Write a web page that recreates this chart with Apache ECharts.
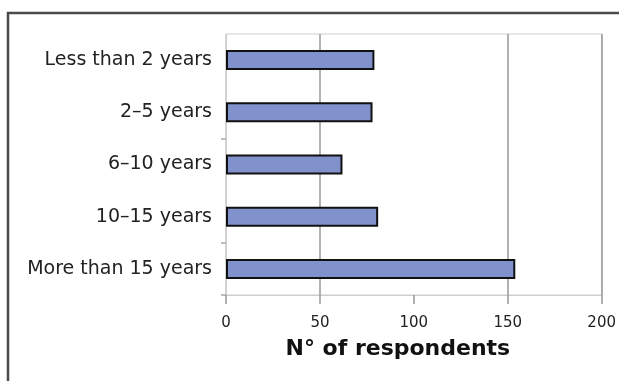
<!DOCTYPE html>
<html>
<head>
<meta charset="utf-8">
<script src="https://cdn.jsdelivr.net/npm/echarts@6/dist/echarts.min.js"></script>
<style>html,body{margin:0;padding:0;background:#fff;}#c{width:619px;height:381px;}</style>
</head>
<body>
<div id="c"></div>
<script>
const categories = ['Less than 2 years', '2–5 years', '6–10 years', '10–15 years', 'More than 15 years'];
const respondents = [79, 78, 62, 81, 154];
const xTicks = [0, 50, 100, 150, 200];

const chart = echarts.init(document.getElementById('c'), null, {renderer: 'canvas'});
chart.setOption({
  backgroundColor: '#fff',
  animation: false,
  graphic: [{
    type: 'rect', z: 100,
    shape: {x: 8, y: 13, width: 1200, height: 800},
    style: {fill: 'none', stroke: '#4a4a4a', lineWidth: 2.5}
  }],
  grid: {left: 226, top: 34, right: 15, bottom: 86, show: true, borderColor: '#cfcfcf', borderWidth: 1},
  xAxis: {
    type: 'value', min: xTicks[0], max: xTicks[xTicks.length - 1], interval: 50,
    name: 'N° of respondents', nameLocation: 'middle', nameGap: 43,
    nameTextStyle: {fontFamily: 'DejaVu Sans', fontWeight: 'bold', fontSize: 22, color: '#111', padding: [0, 32, 0, 0]},
    axisLine: {show: true, lineStyle: {color: '#cfcfcf', width: 1}},
    axisTick: {show: true, length: 9, lineStyle: {color: '#999', width: 1.5}},
    axisLabel: {fontFamily: 'DejaVu Sans', fontSize: 15, color: '#222', margin: 21},
    splitLine: {show: true, lineStyle: {color: ['#cfcfcf', '#999', 'rgba(0,0,0,0)', '#999', '#999'], width: 1.5}}
  },
  yAxis: {
    type: 'category', inverse: true, data: categories,
    axisLine: {show: true, lineStyle: {color: '#cfcfcf', width: 1}},
    axisTick: {show: true, length: 5, interval: function (i) { return i === 2 || i === 4; }, lineStyle: {color: '#aaa', width: 1.5}},
    axisLabel: {fontFamily: 'DejaVu Sans', fontSize: 19, color: '#222', margin: 14}
  },
  series: [{
    type: 'bar', data: respondents, barWidth: 20,
    itemStyle: {color: '#8191cc', borderColor: '#111', borderWidth: 2}
  }]
});
</script>
</body>
</html>
